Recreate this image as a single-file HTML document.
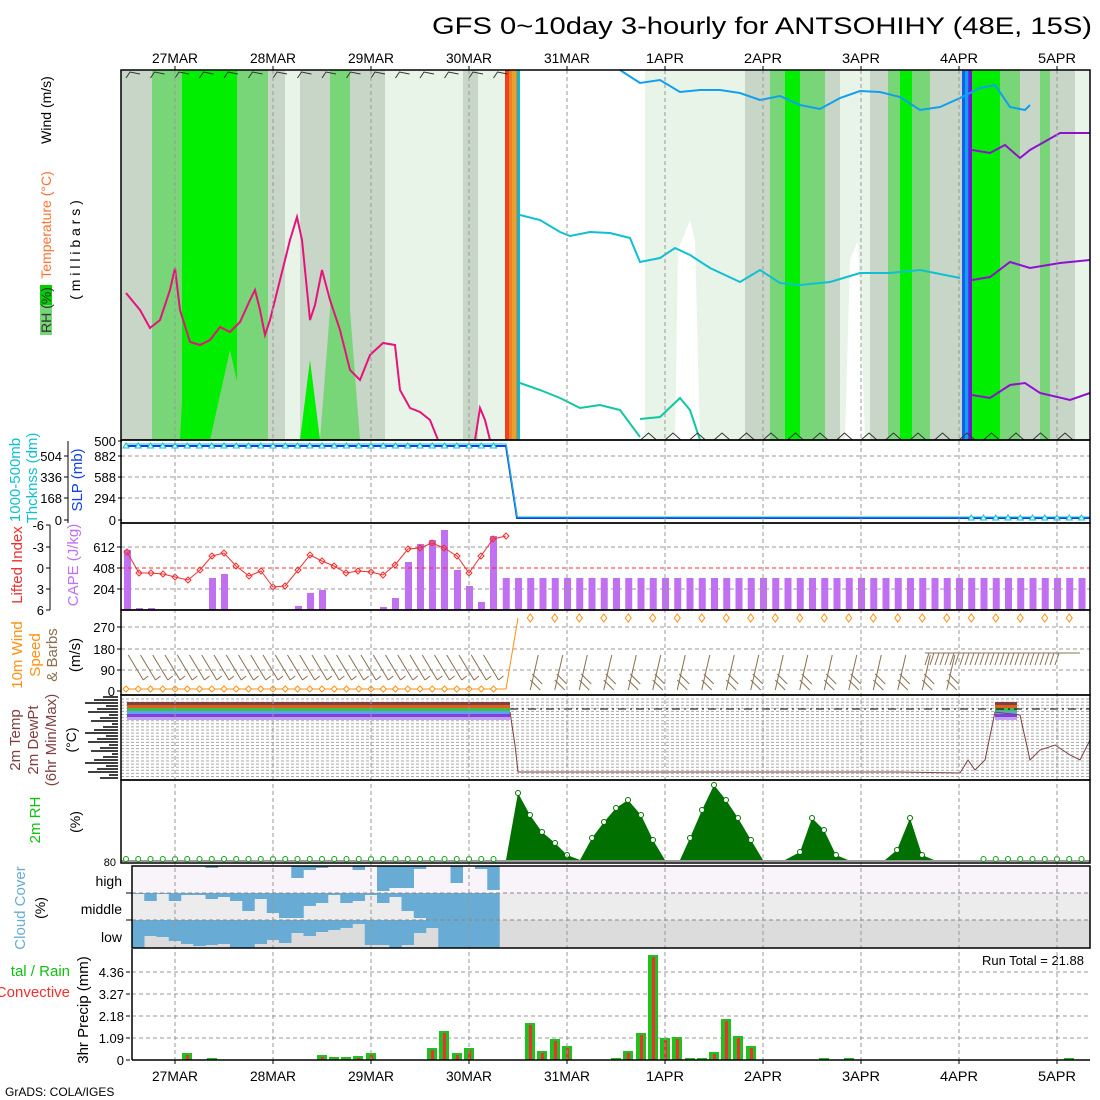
<!DOCTYPE html>
<html><head><meta charset="utf-8"><style>
html,body{margin:0;padding:0;background:#fff}
svg{display:block}
text{font-family:"Liberation Sans",sans-serif}
</style></head><body>
<svg id="s" width="1100" height="1100" viewBox="0 0 1100 1100" xmlns="http://www.w3.org/2000/svg">
<rect width="1100" height="1100" fill="#fff"/>
<text x="432" y="34" font-family="Liberation Mono, monospace" font-size="24" textLength="660" lengthAdjust="spacingAndGlyphs">GFS 0~10day 3-hourly for ANTSOHIHY (48E, 15S)</text>
<g id="top"></g>
<g id="g"></g>
</svg>
<script>
const NS="http://www.w3.org/2000/svg";
const G=document.getElementById('g'),T=document.getElementById('top');
function el(t,a,p,txt){const e=document.createElementNS(NS,t);for(const k in a)e.setAttribute(k,a[k]);if(txt!==undefined)e.textContent=txt;(p||G).appendChild(e);return e;}
function R(x,y,w,h,f,p){return el('rect',{x,y,width:w,height:h,fill:f},p);}
function L(x1,y1,x2,y2,s,w,d,p){const a={x1,y1,x2,y2,stroke:s,'stroke-width':w||1};if(d)a['stroke-dasharray']=d;return el('line',a,p);}
function P(pts,s,w,f,p){return el('polyline',{points:pts.map(q=>q.join(',')).join(' '),stroke:s,'stroke-width':w||1,fill:f||'none'},p);}
function TX(x,y,t,o){o=o||{};const a={x,y,'font-size':o.fs||14,fill:o.c||'#000'};if(o.a)a['text-anchor']=o.a;if(o.tr)a.transform=o.tr;if(o.tl){a.textLength=o.tl;a.lengthAdjust='spacingAndGlyphs';}return el('text',a,o.p,t);}
const X0=121,X1=1090,dx=12.25,x0=126;
const xs=t=>x0+t*dx;
const days=[[175,'27MAR'],[273,'28MAR'],[371,'29MAR'],[469,'30MAR'],[567,'31MAR'],[665,'1APR'],[763,'2APR'],[861,'3APR'],[959,'4APR'],[1057,'5APR']];
const LG='#e8f4e8',GR='#c8d6c8',MG='#78d678',BG='#00ee00';
const bands=[[121,152,GR],[152,182,MG],[182,237,BG],[237,268,MG],[268,285,GR],[285,300,LG],[300,330,GR],[330,350,MG],[350,385,GR],[385,505,LG],[463,478,GR],[505,520,'#f08020'],[520,645,'#fff'],[645,745,LG],[745,770,GR],[770,785,MG],[785,800,BG],[800,825,MG],[825,840,GR],[840,870,LG],[870,888,GR],[888,900,MG],[900,912,BG],[912,930,MG],[930,962,GR],[962,970,'#1060f0'],[970,1000,BG],[1000,1020,MG],[1020,1040,GR],[1040,1050,MG],[1050,1075,GR],[1075,1090,LG]];
bands.forEach(b=>R(b[0],70,b[1]-b[0],370,b[2],T));
el('polygon',{points:'675,440 678,250 690,220 695,240 700,440',fill:'#fff'},T);
el('polygon',{points:'845,440 850,260 858,240 865,440',fill:'#fff'},T);
R(505,70,4,370,'#f04020',T);R(512,70,4,370,'#e8a030',T);R(517,70,3,370,'#10b8d0',T);
R(965,70,3,370,'#10a0f0',T);R(969,70,3,370,'#8010d0',T);
el('polygon',{points:'210,440 230,350 250,440',fill:MG},T);
el('polygon',{points:'300,440 310,360 320,440',fill:BG},T);
el('polygon',{points:'320,440 340,180 360,440',fill:MG},T);
el('polygon',{points:'180,440 190,250 200,440',fill:BG},T);
P([[126,293],[140,310],[150,328],[160,320],[170,290],[175,268],[180,310],[190,342],[200,345],[210,340],[220,327],[230,332],[240,322],[250,300],[255,290],[260,310],[265,335],[270,320],[280,280],[290,240],[297,217],[302,240],[310,320],[315,305],[322,270],[330,300],[340,330],[350,370],[360,380],[370,355],[383,343],[395,345],[400,390],[410,408],[420,412],[430,420],[438,440]],'#e8127c',2,null,T);
P([[475,440],[480,408],[485,420],[490,440]],'#e8127c',2,null,T);
P([[520,215],[540,220],[560,232],[570,236],[590,232],[610,233],[630,238],[640,262],[660,258],[675,248],[690,255],[710,268],[740,282],[760,270],[780,283],[800,285],[830,282],[860,273],[890,273],[920,270],[960,278]],'#10c0d0',2,null,T);
P([[520,383],[540,390],[560,398],[580,408],[600,405],[620,410],[640,437]],'#10c8a0',2,null,T);
P([[640,419],[660,417],[680,398],[690,410],[700,440]],'#10c8a0',2,null,T);
P([[620,70],[640,83],[660,80],[680,92],[700,90],[720,90],[740,93],[760,100],[780,96],[800,105],[820,109],[840,98],[860,91],[880,92],[900,97],[920,110],[940,107],[960,98],[980,88],[995,85],[1010,107],[1025,110],[1030,105]],'#10a0f0',2,null,T);
P([[972,150],[990,153],[1005,145],[1020,158],[1030,150],[1060,133],[1090,133]],'#9010d0',2,null,T);
P([[972,280],[990,277],[1010,262],[1030,268],[1060,263],[1090,260]],'#9010d0',2,null,T);
P([[972,395],[990,398],[1010,385],[1025,383],[1040,393],[1070,400],[1090,393]],'#9010d0',2,null,T);
for(let t=0;t<31;t+=2){const x=xs(t);P([[x,78],[x+4,72],[x+14,74]],'#333',1,null,T);}
for(let t=42;t<78;t+=2){const x=xs(t);P([[x,440],[x+8,433],[x+16,440]],'#333',1,null,T);}
const panels=[[70,440],[440,523],[523,610],[610,695],[695,780],[780,863]];
function hgrid(y){L(X0,y,X1,y,'#999',1,'4,3');}
[456,477,498].forEach(hgrid);
[547,589].forEach(hgrid);
[627,649,670].forEach(hgrid);
for(let y=699;y<778;y+=3.1)L(X0,y,X1,y,'#aaa',1,'3,2');
const cape=[[127,550],[139,608],[151,608],[212,578],[224,574],[298,606],[310,593],[322,590],[383,607],[395,598],[408,562],[420,544],[432,540],[444,530],[457,570],[469,586],[481,602],[493,536]];
cape.forEach(c=>R(c[0]-3,c[1],7,610-c[1],'#c070f0'));
for(let t=31;t<79;t++){R(xs(t)-3,578,7,32,'#c070f0');}
L(X0,568,X1,568,'#f03030',1,'4,3');
const li=[[127,552],[139,573],[151,573],[163,574],[175,577],[188,580],[200,570],[212,556],[224,553],[236,566],[249,576],[261,571],[273,587],[285,586],[298,570],[310,555],[322,561],[334,566],[346,573],[358,571],[371,572],[383,575],[395,565],[408,549],[420,548],[432,543],[444,548],[457,556],[469,573],[481,556],[493,539],[506,536]];
P(li,'#f03030',1);
li.forEach(p=>el('path',{d:`M${p[0]-3},${p[1]} L${p[0]},${p[1]-3} L${p[0]+3},${p[1]} L${p[0]},${p[1]+3}Z`,fill:'none',stroke:'#f03030'}));
P([[127,446],[506,446],[517,518],[1090,518]],'#1040f0',2);
P([[127,444],[506,444],[517,517],[1090,517]],'#10c0d0',1);
for(let t=0;t<31;t++){const x=xs(t);el('path',{d:`M${x-3},${448} L${x},${443} L${x+3},${448}Z`,fill:'#e0ffff',stroke:'#10c0d0'});}
for(let t=69;t<79;t++){const x=xs(t);el('path',{d:`M${x-3},${520} L${x},${515} L${x+3},${520}Z`,fill:'#e0ffff',stroke:'#10c0d0'});}
P([[127,689],[506,689],[518,618]],'#ff9010',1);
for(let t=0;t<31;t++){const x=xs(t);el('path',{d:`M${x-3},689 L${x},686 L${x+3},689 L${x},692Z`,fill:'#fff',stroke:'#ff9010'});}
for(let t=33;t<79;t+=2){const x=xs(t);el('path',{d:`M${x-3},618 L${x},614 L${x+3},618 L${x},622Z`,fill:'#fff',stroke:'#ff9010'});}
for(let t=1;t<31;t+=1){const x=xs(t);L(x-10,655,x+5,680,'#8a7050',1);L(x+5,680,x+10,676,'#8a7050',1);}
for(let t=33;t<69;t+=2){const x=xs(t);L(x,690,x+8,655,'#8a7050',1);L(x,680,x+10,690,'#8a7050',1);L(x+2,674,x+12,684,'#8a7050',1);}
L(925,653,1080,653,'#8a7050',1);
for(let x=925;x<1060;x+=5)L(x,665,x+4,653,'#8a7050',1);
[['#804040',702],['#e06020',705],['#40c040',708],['#60a0f0',711],['#8040e0',714],['#c0a0f0',717]].forEach(c=>{R(127,c[1],383,3,c[0]);R(995,c[1],22,3,c[0]);});
L(510,709,1090,709,'#000',1,'8,4,2,4');
P([[510,712],[515,745],[518,772],[560,772],[600,772],[700,772],[800,772],[900,772],[960,773],[968,760],[975,770],[985,760],[995,712],[1020,715],[1030,760],[1040,750],[1055,745],[1070,755],[1080,760],[1090,740]],'#804040',1);
const rh=[[[506,860],[518,793],[530,815],[542,832],[555,843],[567,855],[580,860]],[[580,860],[592,838],[604,822],[616,808],[628,800],[641,815],[653,840],[665,860]],[[680,860],[690,838],[702,810],[714,785],[726,800],[738,818],[751,840],[763,860]],[[785,860],[800,852],[812,818],[824,830],[836,855],[848,860]],[[885,860],[897,850],[910,818],[922,855],[934,860]]];
rh.forEach(a=>{el('polygon',{points:a.map(q=>q.join(',')).join(' '),fill:'#007000'});a.slice(1,-1).forEach(q=>el('circle',{cx:q[0],cy:q[1],r:2.5,fill:'#fff',stroke:'#007000'}));});
L(X0,861,X1,861,'#999',2);
for(let t=0;t<31;t++)el('circle',{cx:xs(t),cy:859,r:2.5,fill:'#fff',stroke:'#10a010'});
for(let t=70;t<79;t++)el('circle',{cx:xs(t),cy:859,r:2.5,fill:'#fff',stroke:'#10a010'});
// cloud
R(132,866,958,27,'#f8f4fa');R(132,893,958,27,'#ececec');R(132,920,958,28,'#dcdcdc');
const hi=[0,0,0,0,0,0,2,0,0,0,0,0,0,12,4,2,0,0,4,0,25,22,22,3,0,0,17,0,3,24];
const mid=[1,8,1,8,2,2,6,4,8,18,6,20,25,25,13,10,2,10,8,2,10,4,18,25,27,27,27,27,27,27];
const logr=[0,12,11,7,4,2,3,4,0,0,4,8,5,15,12,16,18,20,24,3,3,0,3,15,20,0,0,0,0,0];
for(let i=0;i<30;i++){const x=132+i*12.25;if(hi[i])R(x,866,12.5,hi[i],'#68acd6');if(mid[i])R(x,893,12.5,mid[i],'#68acd6');R(x,920,12.5,28-logr[i],'#68acd6');}
L(132,893,X1,893,'#888',1,'4,3');L(132,920,X1,920,'#888',1,'4,3');
[972,994,1016,1038].forEach(y=>L(132,y,X1,y,'#999',1,'4,3'));
const pr=[[187,1053],[212,1058],[322,1055],[334,1057],[346,1057],[358,1056],[371,1053],[432,1048],[444,1031],[457,1053],[469,1048],[530,1023],[542,1051],[555,1039],[567,1046],[616,1058],[628,1051],[641,1033],[653,955],[665,1038],[677,1037],[690,1058],[702,1058],[714,1052],[726,1019],[738,1036],[751,1046],[824,1058],[849,1058],[1069,1058]];
pr.forEach(p=>{R(p[0]-5,p[1],10,1060-p[1],'#20c020');R(p[0]-1,p[1]+2,3,1060-p[1]-2,'#f03030');});
TX(1084,965,'Run Total = 21.88',{fs:13,a:'end'});
days.forEach(d=>{L(d[0],70,d[0],1060,'#999',1,'4,3');});
panels.forEach(p=>el('rect',{x:X0,y:p[0],width:X1-X0,height:p[1]-p[0],fill:'none',stroke:'#000','stroke-width':1.5}));
el('rect',{x:132,y:866,width:958,height:82,fill:'none',stroke:'#000','stroke-width':1.5});
L(132,949,132,1060,'#000',1.5);L(132,1060,X1,1060,'#000',1.5);
days.forEach(d=>{TX(d[0],63,d[1],{fs:14,a:'middle',tl:d[1].length>4?46:38});L(d[0],66,d[0],70,'#000',1);TX(d[0],1081,d[1],{fs:14,a:'middle',tl:d[1].length>4?46:38});L(d[0],1060,d[0],1064,'#000',1);});
function ytick(x,y,t,c){TX(x,y+5,t,{fs:13,a:'end',c:c||'#000'});L(x+2,y,x+6,y,'#000',1);}
[[441,'500'],[456,'882'],[477,'588'],[498,'294'],[520,'0']].forEach(a=>ytick(116,a[0],a[1]));
[[456,'504'],[477,'336'],[498,'168'],[520,'0']].forEach(a=>ytick(62,a[0],a[1]));
L(68,441,68,523,'#000',1);
[[525,'-6'],[547,'-3'],[568,'0'],[589,'3'],[610,'6']].forEach(a=>ytick(44,a[0],a[1]));L(50,525,50,610,'#000',1);
[[547,'612'],[568,'408'],[589,'204']].forEach(a=>ytick(115,a[0],a[1]));
[[627,'270'],[649,'180'],[670,'90'],[691,'0']].forEach(a=>ytick(115,a[0],a[1]));
for(let y=697;y<780;y+=3)L(84+((y*7)%30),y,118,y,'#000',1.5);
[[972,'4.36'],[994,'3.27'],[1016,'2.18'],[1038,'1.09'],[1060,'0']].forEach(a=>ytick(124,a[0],a[1]));
TX(116,866,'80',{fs:11,a:'end'});
TX(122,886,'high',{fs:14,a:'end'});TX(122,914,'middle',{fs:14,a:'end'});TX(122,942,'low',{fs:14,a:'end'});
L(126,893,132,893,'#000');L(126,920,132,920,'#000');
function vt(x,y,t,c,fs){TX(x,y,t,{fs:fs||14,c:c,a:'middle',tr:`rotate(-90 ${x} ${y})`});}
R(40,285,12,50,'#00d000');R(40,305,12,30,'#78d678');
vt(51,310,'RH (%)','#333');
vt(51,225,'Temperature (°C)','#ff7030');
vt(51,110,'Wind (m/s)','#000');
vt(80,250,'( m i l l i b a r s )','#000');
vt(20,480,'1000-500mb','#10c0d0',15);vt(37,478,'Thcknss (dm)','#10c0d0',15);
vt(82,480,'SLP (mb)','#1040f0',15);
vt(22,565,'Lifted Index','#f03030',15);
vt(78,565,'CAPE (J/kg)','#c070f0',15);
vt(22,655,'10m Wind','#ff9010',15);vt(40,655,'Speed','#ff9010',15);vt(57,655,'& Barbs','#8a7050',15);vt(80,655,'(m/s)','#000',15);
vt(20,740,'2m Temp','#804040',15);vt(38,740,'2m DewPt','#804040',15);vt(56,740,'(6hr Min/Max)','#804040',15);vt(76,740,'(°C)','#000',14);
vt(40,820,'2m RH','#10c010',15);vt(80,822,'(%)','#000',14);
vt(25,908,'Cloud Cover','#68acd6',15);vt(45,908,'(%)','#000',14);
vt(88,1010,'3hr Precip (mm)','#000',15);
TX(70,976,'tal / Rain',{fs:15,c:'#10c010',a:'end'});TX(70,997,'Convective',{fs:15,c:'#f03030',a:'end'});
TX(5,1096,'GrADS: COLA/IGES',{fs:12});
</script>
</body></html>
